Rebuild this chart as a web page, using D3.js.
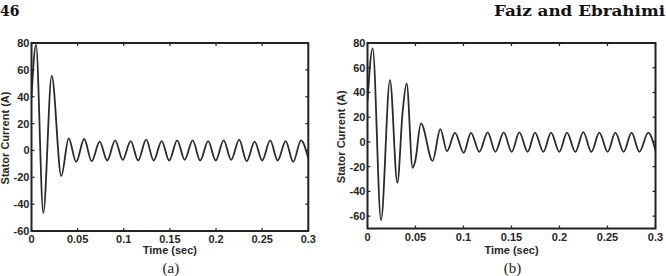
<!DOCTYPE html>
<html>
<head>
<meta charset="utf-8">
<script src="https://cdn.jsdelivr.net/npm/d3@7"></script>
<style>
  html, body { margin: 0; padding: 0; background: #fff; }
  .tick-label { font-family: "Liberation Sans", Arial, sans-serif; font-size: 11px; font-weight: bold; fill: #262626; }
  .axis-title { font-family: "Liberation Sans", Arial, sans-serif; font-size: 11px; font-weight: bold; fill: #262626; }
  .header { font-family: "DejaVu Serif", serif; font-size: 14px; font-weight: bold; fill: #111; }
  .caption { font-family: "Liberation Serif", serif; font-size: 15px; fill: #222; }
</style>
</head>
<body>
<div id="chart"></div>
<script>
// ============
//   Data
// ============

// Panel (a): peaks and troughs of the stator current
const timeA = [0, 0.0049, 0.0128, 0.0219, 0.0323, 0.0403, 0.0484, 0.0571, 0.0652, 0.0739,
    0.0820, 0.0907, 0.0988, 0.1075, 0.1156, 0.1243, 0.1324, 0.1411, 0.1492, 0.1579,
    0.1660, 0.1747, 0.1828, 0.1915, 0.1996, 0.2083, 0.2164, 0.2251, 0.2332, 0.2419,
    0.2500, 0.2587, 0.2668, 0.2755, 0.2836, 0.2921, 0.3];
const currentA = [40, 78.5, -46.5, 55.5, -19, 9, -8.5, 8.5, -8, 6.5,
    -7.5, 7.5, -7, 7, -7.5, 8, -7.5, 7, -7.5, 7.5,
    -7, 7.5, -7.5, 7, -7.5, 7.5, -7, 8, -8, 6.5,
    -7.5, 7.5, -7.5, 7, -8.5, 7.5, -6];

// Panel (b)
const timeB = [0, 0.0054, 0.0141, 0.0234, 0.0311, 0.0366, 0.0408, 0.0470, 0.0496, 0.0557,
    0.0678, 0.0759, 0.0828, 0.0911, 0.1002, 0.1078, 0.1165, 0.1252, 0.1332, 0.1419,
    0.1502, 0.1582, 0.1668, 0.1745, 0.1832, 0.1912, 0.1998, 0.2078, 0.2165, 0.2248,
    0.2332, 0.2415, 0.2502, 0.2582, 0.2668, 0.2751, 0.2832, 0.2925, 0.3];
const currentB = [33, 75.7, -63.3, 50, -33, 24.4, 47.3, -21, -16, 15,
    -15.3, 10.4, -7.4, 7.4, -8.8, 7.4, -8, 7.7, -8, 7.7,
    -8, 7.7, -8, 7.5, -8, 7.5, -8, 7.5, -8, 8,
    -8, 7.5, -8, 7.5, -8, 7.5, -8, 7.5, -7];

// Tick values
const xTicks = [0, 0.05, 0.1, 0.15, 0.2, 0.25, 0.3];
const yTicksA = [-60, -40, -20, 0, 20, 40, 60, 80];
const yTicksB = [-60, -40, -20, 0, 20, 40, 60, 80];

// Panel settings
const panels = [
    { id: "a", t: timeA, v: currentA, yTicks: yTicksA, yDomain: [-60, 80],
      left: 31.5, right: 308.3, top: 43, bottom: 231 },
    { id: "b", t: timeB, v: currentB, yTicks: yTicksB, yDomain: [-70, 80],
      left: 367.5, right: 655.5, top: 43, bottom: 228.5 }
];

const svg = d3.select("#chart")
    .append("svg")
        .attr("width", 666)
        .attr("height", 276);

// Page header
svg.append("text").attr("class", "header")
    .attr("x", 0).attr("y", 16).text("46");
svg.append("text").attr("class", "header")
    .attr("x", 494).attr("y", 16)
    .attr("textLength", 171)
    .attr("lengthAdjust", "spacingAndGlyphs")
    .text("Faiz and Ebrahimi");

/**
 * Draw one MATLAB-style panel
 */
function drawPanel(p) {
    const x = d3.scaleLinear().domain([0, 0.3]).range([p.left, p.right]);
    const y = d3.scaleLinear().domain(p.yDomain).range([p.bottom, p.top]);
    const g = svg.append("g");
    const tickLen = 3;

    // clip
    g.append("clipPath").attr("id", "clip-" + p.id)
        .append("rect")
            .attr("x", p.left).attr("y", p.top)
            .attr("width", p.right - p.left).attr("height", p.bottom - p.top);

    // signal
    const line = d3.line()
        .x((d, i) => x(p.t[i]))
        .y(d => y(d))
        .curve(d3.curveMonotoneX);

    g.append("path")
        .attr("clip-path", `url(#clip-${p.id})`)
        .attr("d", line(p.v))
        .attr("fill", "none")
        .attr("stroke", "#2a2a2a")
        .attr("stroke-width", 1.8)
        .attr("stroke-linejoin", "round");

    // inward ticks on all four sides
    const ticks = g.append("g").attr("stroke", "#222").attr("stroke-width", 1.2);
    xTicks.forEach(t => {
        ticks.append("line").attr("x1", x(t)).attr("x2", x(t)).attr("y1", p.bottom).attr("y2", p.bottom - tickLen);
        ticks.append("line").attr("x1", x(t)).attr("x2", x(t)).attr("y1", p.top).attr("y2", p.top + tickLen);
    });
    p.yTicks.forEach(v => {
        ticks.append("line").attr("x1", p.left).attr("x2", p.left + tickLen).attr("y1", y(v)).attr("y2", y(v));
        ticks.append("line").attr("x1", p.right).attr("x2", p.right - tickLen).attr("y1", y(v)).attr("y2", y(v));
    });

    // box
    g.append("rect")
        .attr("x", p.left).attr("y", p.top)
        .attr("width", p.right - p.left).attr("height", p.bottom - p.top)
        .attr("fill", "none")
        .attr("stroke", "#222")
        .attr("stroke-width", 2);

    // tick labels
    g.selectAll("text.xl")
        .data(xTicks)
        .join("text")
            .attr("class", "tick-label xl")
            .attr("x", d => x(d))
            .attr("y", p.bottom + 12)
            .attr("text-anchor", "middle")
            .text(d => d);

    g.selectAll("text.yl")
        .data(p.yTicks)
        .join("text")
            .attr("class", "tick-label yl")
            .attr("x", p.left - 2)
            .attr("y", d => y(d) + 4)
            .attr("text-anchor", "end")
            .text(d => d);

    const cx = (p.left + p.right) / 2;

    // axis titles
    g.append("text").attr("class", "axis-title")
        .attr("x", cx).attr("y", 254)
        .attr("text-anchor", "middle")
        .text("Time (sec)");

    g.append("text").attr("class", "axis-title")
        .attr("transform", `translate(${p.left - 23}, ${(p.top + p.bottom) / 2 + 1}) rotate(-90)`)
        .attr("text-anchor", "middle")
        .text("Stator Current (A)");

    // caption
    svg.append("text").attr("class", "caption")
        .attr("x", cx + 1).attr("y", 273)
        .attr("text-anchor", "middle")
        .text(`(${p.id})`);
}

panels.forEach(drawPanel);
</script>
</body>
</html>
